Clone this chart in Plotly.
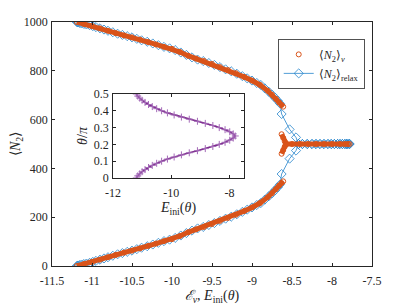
import plotly.graph_objects as go

# ---------------- data ----------------
# relaxation results <N2>_relax versus E_ini(theta)
relax_E_branch = [-11.19, -11.18, -11.17, -11.15, -11.13, -11.10, -11.07, -11.03, -10.99, -10.95,
                  -10.90, -10.85, -10.80, -10.74, -10.68, -10.62, -10.56, -10.50, -10.44, -10.38,
                  -10.31, -10.24, -10.17, -10.10, -10.03, -9.96, -9.89, -9.82, -9.75, -9.68,
                  -9.61, -9.54, -9.47, -9.40, -9.33, -9.26, -9.19, -9.12, -9.06, -9.00,
                  -8.94, -8.89, -8.84, -8.79, -8.75, -8.71, -8.68, -8.65, -8.63, -8.53,
                  -8.45, -8.42]
relax_N_lower = [0, 1, 2, 4, 6, 8, 10, 13, 17, 21,
                 26, 31, 36, 42, 48, 53, 58, 63, 69, 75,
                 81, 88, 95, 102, 108, 115, 125, 135, 145, 154,
                 160, 168, 176, 185, 194, 202, 212, 222, 231, 240,
                 250, 258, 272, 286, 298, 311, 322, 334, 377, 440,
                 473, 500]
relax_N_upper = [1000, 999, 998, 996, 994, 992, 990, 987, 983, 979,
                 974, 969, 964, 958, 952, 947, 942, 937, 931, 925,
                 919, 912, 905, 898, 892, 885, 875, 865, 855, 846,
                 840, 832, 824, 815, 806, 798, 788, 778, 769, 760,
                 750, 742, 728, 714, 702, 689, 678, 666, 623, 560,
                 527, 500]
relax_E_plateau = [-8.37, -8.31, -8.25, -8.20, -8.15, -8.10, -8.05, -8.01, -7.97, -7.93,
                   -7.90, -7.87, -7.84, -7.82, -7.80, -7.78]
relax_N_plateau = [500] * 16

# eigenstate expectation values <N2>_nu versus E_nu
nu_E_branch = [-11.19, -11.10, -11.00, -10.90, -10.80, -10.70, -10.60, -10.50, -10.40, -10.30,
               -10.20, -10.10, -10.00, -9.90, -9.80, -9.70, -9.60, -9.50, -9.40, -9.30,
               -9.20, -9.10, -9.00, -8.90, -8.80, -8.75, -8.70, -8.66, -8.63, -8.61]
nu_N_lower = [0, 8, 16, 26, 36, 46, 55, 63, 72, 82,
              92, 102, 110, 123, 138, 150, 160, 172, 185, 197,
              210, 225, 240, 258, 283, 298, 315, 330, 340, 347]
nu_N_upper = [1000, 992, 984, 974, 964, 954, 945, 937, 928, 918,
              908, 898, 890, 877, 862, 850, 840, 828, 815, 803,
              790, 775, 760, 742, 717, 702, 685, 670, 660, 653]
nu_E_plateau = [-8.57, -8.50, -8.40, -8.30, -8.20, -8.10, -8.00, -7.90, -7.84, -7.80, -7.78]
nu_N_plateau = [500] * 11
nu_E_fork = [-8.63, -8.61, -8.59, -8.57, -8.59, -8.61, -8.63]
nu_N_fork = [540, 525, 510, 500, 490, 475, 460]

# inset: theta/pi versus E_ini(theta)
inset_theta = [0.0, 0.0125, 0.025, 0.0375, 0.05, 0.0625, 0.075, 0.0875, 0.1, 0.1125,
               0.125, 0.1375, 0.15, 0.1625, 0.175, 0.1875, 0.2, 0.2125, 0.225, 0.2375,
               0.25, 0.2625, 0.275, 0.2875, 0.3, 0.3125, 0.325, 0.3375, 0.35, 0.3625,
               0.375, 0.3875, 0.4, 0.4125, 0.425, 0.4375, 0.45, 0.4625, 0.475, 0.4875, 0.5]
inset_E = [-11.20, -11.15, -11.08, -11.00, -10.90, -10.78, -10.65, -10.50, -10.33, -10.13,
           -9.90, -9.65, -9.38, -9.10, -8.83, -8.57, -8.35, -8.15, -7.99, -7.87,
           -7.80, -7.87, -7.99, -8.15, -8.35, -8.57, -8.83, -9.10, -9.38, -9.65,
           -9.90, -10.13, -10.33, -10.50, -10.65, -10.78, -10.90, -11.00, -11.08, -11.15, -11.20]

main_xticks = [-11.5, -11, -10.5, -10, -9.5, -9, -8.5, -8, -7.5]
main_xlabels = ["-11.5", "-11", "-10.5", "-10", "-9.5", "-9", "-8.5", "-8", "-7.5"]
main_yticks = [0, 200, 400, 600, 800, 1000]
inset_xticks = [-12, -10, -8]
inset_xlabels = ["-12", "-10", "-8"]
inset_yticks = [0, 0.1, 0.2, 0.3, 0.4, 0.5]
inset_ylabels = ["0", "0.1", "0.2", "0.3", "0.4", "0.5"]

# ---------------- styles ----------------
BLUE = "#2484CC"
ORANGE = "#D95319"
PURPLE = "#7E2F8E"
AXC = "#262626"
FONT = "Liberation Serif"

# blue relax path: lower branch -> plateau out -> plateau back -> upper branch
blue_E = relax_E_branch + relax_E_plateau + relax_E_plateau[::-1] + relax_E_branch[::-1]
blue_N = relax_N_lower + relax_N_plateau + relax_N_plateau + relax_N_upper[::-1]

fig = go.Figure()

fig.add_trace(go.Scatter(
    x=blue_E, y=blue_N, mode="lines+markers",
    name="⟨<i>N</i><sub>2</sub>⟩<sub>relax</sub>",
    line=dict(color=BLUE, width=0.8),
    marker=dict(symbol="diamond-open", size=7, color=BLUE, line=dict(width=0.8, color=BLUE)),
))

# orange band (drawn from the same data as the circle markers)
for xs, ys in [(nu_E_branch, nu_N_lower), (nu_E_branch, nu_N_upper),
               (nu_E_plateau, nu_N_plateau), (nu_E_fork, nu_N_fork)]:
    fig.add_trace(go.Scatter(x=xs, y=ys, mode="lines", showlegend=False, hoverinfo="skip",
                             line=dict(color=ORANGE, width=5)))

orange_E = nu_E_branch + nu_E_branch + nu_E_plateau + nu_E_fork
orange_N = nu_N_lower + nu_N_upper + nu_N_plateau + nu_N_fork
fig.add_trace(go.Scatter(
    x=orange_E, y=orange_N, mode="markers",
    name="⟨<i>N</i><sub>2</sub>⟩<sub><i>ν</i></sub>",
    marker=dict(symbol="circle-open", size=5, color=ORANGE, line=dict(width=1, color=ORANGE)),
))

# inset
fig.add_trace(go.Scatter(
    x=inset_E, y=inset_theta, mode="lines+markers", xaxis="x2", yaxis="y2", showlegend=False,
    line=dict(color=PURPLE, width=1.6),
    marker=dict(symbol="cross-thin", size=5, color="#A46AB8", line=dict(width=1, color="#A46AB8")),
))

axis_common = dict(showline=True, linecolor=AXC, linewidth=0.8, mirror="ticks", ticks="inside",
                   ticklen=3, tickcolor=AXC, tickwidth=0.8, showgrid=False, zeroline=False,
                   automargin=False,
                   tickfont=dict(family=FONT, size=12, color=AXC))

# the page body adds an 8 px margin, so the figure is 8 px smaller and shifted
fig.update_layout(
    width=399, height=297,
    margin=dict(l=44, r=35, t=14, b=39, autoexpand=False),
    paper_bgcolor="white", plot_bgcolor="white",
    font=dict(family=FONT, color=AXC),
    xaxis=dict(range=[-11.5, -7.5], tickvals=main_xticks, ticktext=main_xlabels,
               ticklabelstandoff=4,
               title=dict(text="<i>ℰ</i><sub><i>ν</i></sub>, <i>E</i><sub>ini</sub>(<i>θ</i>)",
                          font=dict(family=FONT, size=14, color=AXC), standoff=0),
               **axis_common),
    yaxis=dict(range=[0, 1000], tickvals=main_yticks, ticklabelstandoff=1,
               title=dict(text="⟨<i>N</i><sub>2</sub>⟩",
                          font=dict(family=FONT, size=14, color=AXC), standoff=8),
               **axis_common),
    xaxis2=dict(domain=[0.1906, 0.6], anchor="y2", range=[-12, -7.5],
                tickvals=inset_xticks, ticktext=inset_xlabels, ticklabelstandoff=4,
                title=dict(text="<i>E</i><sub>ini</sub>(<i>θ</i>)",
                           font=dict(family=FONT, size=14, color=AXC), standoff=0),
                **axis_common),
    yaxis2=dict(domain=[0.3607, 0.705], anchor="x2", range=[0, 0.5],
                tickvals=inset_yticks, ticktext=inset_ylabels, ticklabelstandoff=1,
                title=dict(text="<i>θ</i>/<i>π</i>",
                           font=dict(family=FONT, size=14, color=AXC), standoff=2),
                **axis_common),
    legend=dict(x=0.706, y=0.93, xanchor="left", yanchor="top", traceorder="reversed",
                bgcolor="white", bordercolor=AXC, borderwidth=0.8,
                font=dict(family=FONT, size=12, color=AXC), itemwidth=30,
                tracegroupgap=0),
    showlegend=True,
)

fig.add_shape(type="rect", xref="x2 domain", yref="y2 domain", x0=0, x1=1, y0=0, y1=1,
              line=dict(width=0), fillcolor="white", layer="below")

fig.write_html("out.html")
